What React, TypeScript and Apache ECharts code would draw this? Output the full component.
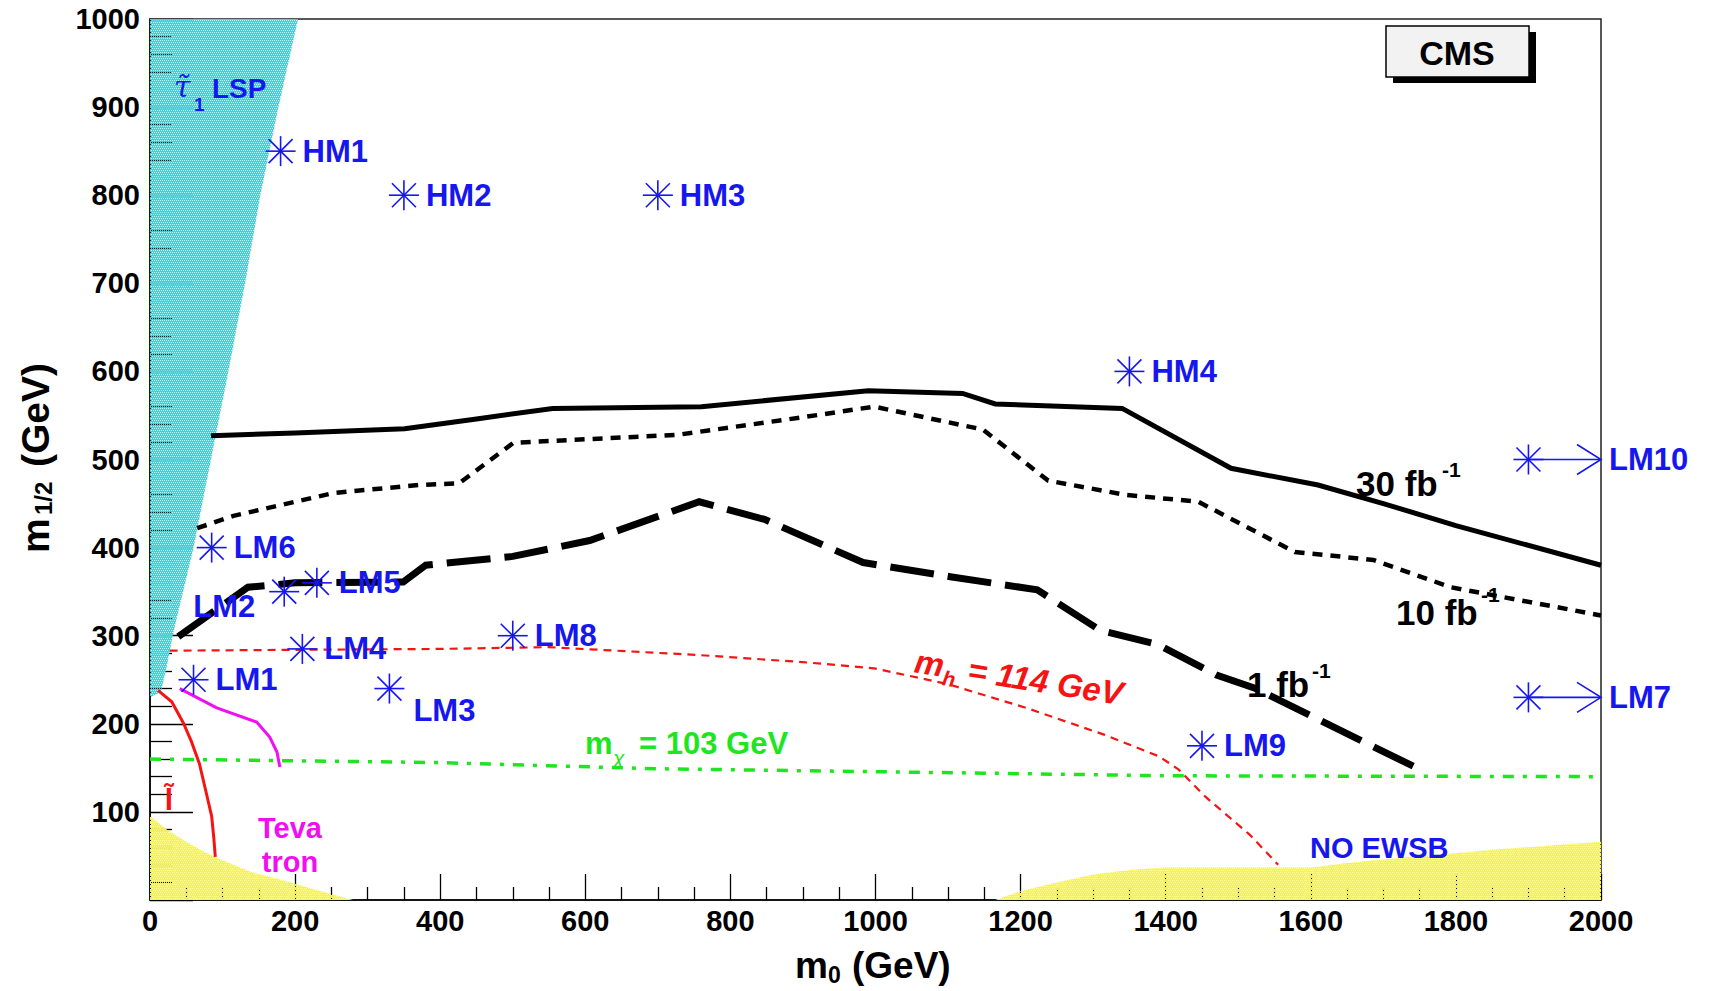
import React, { useEffect, useRef } from 'react';
import * as echarts from 'echarts';

// ---------- data (GeV) ----------
const X_MIN = 0, X_MAX = 2000, X_STEP = 200;
const Y_MIN = 0, Y_MAX = 1000, Y_STEP = 100;

const CYAN_REGION: number[][] = [[0, 230], [15, 236], [23, 265], [32, 303], [60, 400], [83, 496], [108, 600], [131, 700], [152, 800], [177, 900], [204, 1000], [0, 1000]];
const YELLOW_LEFT: number[][] = [[0, 0], [0, 95], [23, 80], [46, 68], [69, 57], [92, 48], [138, 32], [184, 22], [230, 11], [280, 0]];
const YELLOW_RIGHT: number[][] = [[1165, 0], [1200, 10], [1250, 20], [1300, 29], [1350, 34], [1400, 37], [1600, 37], [1650, 42], [1700, 46], [1750, 50], [1800, 53], [1850, 57], [1900, 60], [1950, 63], [2000, 66], [2000, 0]];

const LUMI_30: number[][] = [[84, 527], [200, 530], [351, 535], [450, 546], [555, 558], [760, 560], [990, 578], [1120, 575], [1165, 563], [1340, 558], [1490, 490], [1610, 471], [1700, 450], [1800, 425], [2000, 380]];
const LUMI_10: number[][] = [[65, 422], [115, 436], [253, 462], [370, 471], [426, 473], [501, 519], [727, 528], [900, 548], [998, 560], [1148, 534], [1238, 476], [1344, 460], [1445, 452], [1578, 395], [1686, 386], [1793, 355], [1864, 344], [2000, 323]];
const LUMI_1: number[][] = [[39, 299], [135, 355], [200, 360], [349, 361], [380, 380], [500, 390], [606, 408], [757, 452], [847, 432], [983, 383], [1103, 367], [1223, 352], [1310, 306], [1389, 290], [1471, 255], [1524, 240], [1758, 145]];
const MH_114: number[][] = [[27, 283], [200, 284], [400, 285], [550, 287], [757, 278], [900, 270], [998, 263], [1100, 245], [1208, 218], [1314, 188], [1391, 163], [1418, 148], [1455, 117], [1516, 74], [1555, 40]];
const MCHI_103: number[][] = [[0, 160], [396, 156], [697, 149], [1148, 144], [1400, 141], [2000, 140]];
const TEVATRON: number[][] = [[41, 240], [92, 218], [147, 202], [165, 185], [175, 168], [179, 151]];
const SLEPTON: number[][] = [[11, 238], [30, 225], [46, 201], [57, 180], [68, 155], [78, 120], [85, 95], [88, 70], [90, 49]];

const POINT_NAMES = ['LM1', 'LM2', 'LM3', 'LM4', 'LM5', 'LM6', 'LM8', 'LM9', 'HM1', 'HM2', 'HM3', 'HM4'];
const POINT_M0 = [60, 185, 330, 210, 230, 85, 500, 1450, 180, 350, 700, 1350];
const POINT_M12 = [250, 350, 240, 285, 360, 400, 300, 175, 850, 800, 800, 600];

const ARROW_NAMES = ['LM7', 'LM10'];
const ARROW_M0 = [1900, 1900];
const ARROW_M12 = [230, 500];

// ---------- styles ----------
const FONT = '"Liberation Sans", Arial, Helvetica, sans-serif';
const BLUE = '#1616ee';
const RED = '#f51414';
const GREEN = '#1ee61e';
const MAGENTA = '#f00ff0';
const CYAN = '#00eaf8';
const YELLOW = '#ffff00';

const LABEL_POS: Record<string, { dx: number; dy: number; align: string }> = {
  LM2: { dx: -29, dy: 15, align: 'right' },
  LM3: { dx: 24, dy: 22, align: 'left' },
};

function makePattern(color: string): any {
  const c = document.createElement('canvas');
  c.width = 4;
  c.height = 4;
  const ctx = c.getContext('2d');
  if (!ctx) return color;
  ctx.fillStyle = color;
  ctx.fillRect(0, 0, 4, 4);
  ctx.clearRect(0, 0, 1, 1);
  ctx.clearRect(2, 0, 1, 1);
  ctx.clearRect(1, 2, 1, 1);
  ctx.clearRect(3, 2, 1, 1);
  return { image: c, repeat: 'repeat', imageWidth: 4, imageHeight: 4 };
}

function regionSeries(points: number[][], fill: any) {
  return {
    type: 'custom',
    coordinateSystem: 'cartesian2d',
    silent: true,
    z: 1,
    data: [[points[0][0], points[0][1]]],
    encode: { x: 0, y: 1 },
    renderItem: (_p: any, api: any) => ({
      type: 'polygon',
      shape: { points: points.map((p) => api.coord(p)) },
      style: { fill },
    }),
  };
}

function curve(data: number[][], color: string, width: number, dash: any) {
  return {
    type: 'line',
    data,
    showSymbol: false,
    symbol: 'none',
    silent: true,
    z: 3,
    lineStyle: { color, width, type: dash, cap: 'butt', join: 'miter' },
  };
}

function starLines(cx: number, cy: number) {
  const r = 15, d = 12;
  return [[-r, 0, r, 0], [0, -r, 0, r], [-d, -d, d, d], [-d, d, d, -d]].map(([a, b, c, e]) => ({
    type: 'line',
    shape: { x1: cx + a, y1: cy + b, x2: cx + c, y2: cy + e },
    style: { stroke: BLUE, lineWidth: 1.6 },
  }));
}

function txt(x: number, y: number, text: string, font: string, fill: string, align = 'left', extra: any = {}) {
  return {
    type: 'text',
    x,
    y,
    z: 20,
    silent: true,
    style: { text, font, fill, textAlign: align, textVerticalAlign: 'middle' },
    ...extra,
  };
}

export default function App() {
  const ref = useRef<HTMLDivElement>(null);

  useEffect(() => {
    if (!ref.current) return;
    const chart = echarts.init(ref.current, null, { renderer: 'svg' });
    const cyanFill = makePattern(CYAN);
    const yellowFill = makePattern(YELLOW);

    const axisCommon = {
      type: 'value',
      axisLine: { show: true, onZero: false, lineStyle: { color: '#000', width: 1.5 } },
      splitLine: { show: false },
      minorSplitLine: { show: false },
      axisLabel: { color: '#000', fontFamily: FONT, fontWeight: 'bold', fontSize: 29 },
    };

    const option: any = {
      animation: false,
      backgroundColor: '#ffffff',
      grid: { left: 150, top: 19, width: 1451, height: 881, show: true, borderColor: '#222', borderWidth: 1.5, backgroundColor: '#fff' },
      xAxis: {
        ...axisCommon,
        min: X_MIN,
        max: X_MAX,
        interval: X_STEP,
        axisTick: { show: true, inside: true, length: 26, lineStyle: { color: '#000', width: 1.3 } },
        minorTick: { show: true, splitNumber: 4, length: 13, lineStyle: { color: '#000', width: 1.3 } },
        axisLabel: { ...axisCommon.axisLabel, margin: 6, formatter: (v: number) => String(v) },
      },
      yAxis: {
        ...axisCommon,
        min: Y_MIN,
        max: Y_MAX,
        interval: Y_STEP,
        axisTick: { show: true, inside: true, length: 43, lineStyle: { color: '#000', width: 1.3 } },
        minorTick: { show: true, splitNumber: 5, length: 22, lineStyle: { color: '#000', width: 1.3 } },
        axisLabel: { ...axisCommon.axisLabel, margin: 10, formatter: (v: number) => (v === 0 ? '' : String(v)) },
      },
      series: [
        regionSeries(CYAN_REGION, cyanFill),
        regionSeries(YELLOW_LEFT, yellowFill),
        regionSeries(YELLOW_RIGHT, yellowFill),
        curve(MCHI_103, GREEN, 3.5, [11, 9, 4, 9]),
        curve(MH_114, RED, 2.2, [8, 6]),
        curve(TEVATRON, MAGENTA, 3, 'solid'),
        curve(SLEPTON, RED, 3, 'solid'),
        curve(LUMI_30, '#000', 5, 'solid'),
        curve(LUMI_10, '#000', 4.5, [10, 8]),
        curve(LUMI_1, '#000', 7, [44, 14]),
        {
          type: 'custom',
          coordinateSystem: 'cartesian2d',
          silent: true,
          z: 6,
          data: POINT_NAMES.map((n, i) => [POINT_M0[i], POINT_M12[i], i]),
          encode: { x: 0, y: 1 },
          renderItem: (params: any, api: any) => {
            const i = params.dataIndex;
            const name = POINT_NAMES[i];
            const [cx, cy] = api.coord([api.value(0), api.value(1)]);
            const pos = LABEL_POS[name] || { dx: 22, dy: 0, align: 'left' };
            return {
              type: 'group',
              children: [
                ...starLines(cx, cy),
                {
                  type: 'text',
                  x: cx + pos.dx,
                  y: cy + pos.dy,
                  style: { text: name, font: `bold 31px ${FONT}`, fill: BLUE, textAlign: pos.align, textVerticalAlign: 'middle' },
                },
              ],
            };
          },
        },
        {
          type: 'custom',
          coordinateSystem: 'cartesian2d',
          silent: true,
          z: 6,
          data: ARROW_NAMES.map((n, i) => [ARROW_M0[i], ARROW_M12[i], i]),
          encode: { x: 0, y: 1 },
          renderItem: (params: any, api: any) => {
            const i = params.dataIndex;
            const [cx, cy] = api.coord([api.value(0), api.value(1)]);
            const [tx] = api.coord([X_MAX, api.value(1)]);
            return {
              type: 'group',
              children: [
                ...starLines(cx, cy),
                { type: 'line', shape: { x1: cx, y1: cy, x2: tx, y2: cy }, style: { stroke: BLUE, lineWidth: 1.6 } },
                { type: 'polyline', shape: { points: [[tx - 24, cy - 15], [tx, cy], [tx - 24, cy + 15]] }, style: { stroke: BLUE, lineWidth: 1.6, fill: 'none' } },
                {
                  type: 'text',
                  x: tx + 8,
                  y: cy,
                  style: { text: ARROW_NAMES[i], font: `bold 31px ${FONT}`, fill: BLUE, textAlign: 'left', textVerticalAlign: 'middle' },
                },
              ],
            };
          },
        },
      ],
      graphic: [
        // CMS box
        { type: 'rect', z: 15, silent: true, shape: { x: 1393, y: 32, width: 143, height: 51 }, style: { fill: '#000' } },
        { type: 'rect', z: 16, silent: true, shape: { x: 1386, y: 26, width: 143, height: 51 }, style: { fill: '#f2f2f2', stroke: '#000', lineWidth: 1.5 } },
        txt(1457, 53, 'CMS', `bold 34px ${FONT}`, '#000', 'center'),
        // stau LSP
        txt(174, 86, 'τ̃', `italic 30px "DejaVu Serif", serif`, BLUE),
        txt(194, 104, '1', `bold 19px ${FONT}`, BLUE),
        txt(212, 88, 'LSP', `bold 28px ${FONT}`, BLUE),
        // luminosity labels
        txt(1356, 483, '30 fb', `bold 35px ${FONT}`, '#000'),
        txt(1442, 469, '-1', `bold 21px ${FONT}`, '#000'),
        txt(1396, 612, '10 fb', `bold 35px ${FONT}`, '#000'),
        txt(1481, 594, '-1', `bold 21px ${FONT}`, '#000'),
        txt(1247, 684, '1 fb', `bold 35px ${FONT}`, '#000'),
        txt(1312, 670, '-1', `bold 21px ${FONT}`, '#000'),
        // m_h label
        {
          type: 'group',
          x: 915,
          y: 661,
          rotation: -0.157,
          z: 20,
          silent: true,
          children: [
            txt(0, 0, 'm', `italic bold 33px ${FONT}`, RED),
            txt(30, 12, 'h', `italic bold 21px ${FONT}`, RED),
            txt(54, 0, '= 114 GeV', `italic bold 33px ${FONT}`, RED),
          ],
        },
        // m_chi label
        txt(585, 743, 'm', `bold 31px ${FONT}`, GREEN),
        txt(613, 757, 'χ', `italic 21px ${FONT}`, GREEN),
        txt(639, 743, '= 103 GeV', `bold 31px ${FONT}`, GREEN),
        // Tevatron
        txt(290, 828, 'Teva', `bold 29px ${FONT}`, MAGENTA, 'center'),
        txt(290, 862, 'tron', `bold 29px ${FONT}`, MAGENTA, 'center'),
        // slepton
        txt(169, 799, 'l̃', `bold 30px ${FONT}`, RED, 'center'),
        // NO EWSB
        txt(1310, 848, 'NO EWSB', `bold 29px ${FONT}`, BLUE),
        // x axis title
        txt(795, 965, 'm', `bold 37px ${FONT}`, '#000'),
        txt(828, 975, '0', `bold 23px ${FONT}`, '#000'),
        txt(852, 965, '(GeV)', `bold 37px ${FONT}`, '#000'),
        // y axis title
        {
          type: 'group',
          x: 35,
          y: 553,
          rotation: Math.PI / 2,
          z: 20,
          silent: true,
          children: [
            txt(0, 0, 'm', `bold 39px ${FONT}`, '#000'),
            txt(38, 8, '1/2', `bold 24px ${FONT}`, '#000'),
            txt(86, 0, '(GeV)', `bold 39px ${FONT}`, '#000'),
          ],
        },
      ],
    };

    chart.setOption(option);
    return () => chart.dispose();
  }, []);

  return <div ref={ref} style={{ position: 'fixed', left: 0, top: 0, width: 1712, height: 991 }} />;
}
